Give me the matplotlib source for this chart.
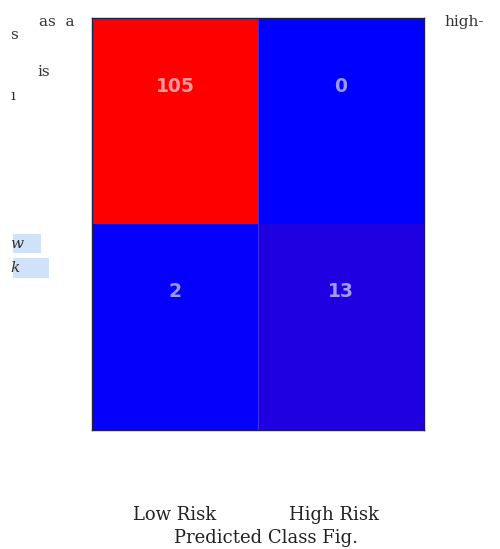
import matplotlib.pyplot as plt
import numpy as np
from matplotlib.colors import LinearSegmentedColormap
from matplotlib.patches import Rectangle
from matplotlib.transforms import offset_copy

classes = ["Low Risk", "High Risk"]
counts = [[105, 0],
          [2, 13]]
xlabel = "Predicted Class Fig."

# stray words of the surrounding page, left and right of the figure
page_words = [("as  a", 0.078, 0.960), ("s", 0.020, 0.936), ("is", 0.074, 0.868),
              ("ı", 0.020, 0.825), ("high-", 0.888, 0.960)]
marked_words = [("w", 0.020, 0.556), ("k", 0.020, 0.512)]

cm = np.array(counts)
cmap = LinearSegmentedColormap.from_list("br", ["#0000ff", "#ff0000"])

fig = plt.figure(figsize=(5, 5.49), dpi=100, facecolor="white")
ax = fig.add_axes([0.184, 0.217, 0.664, 0.750])
ax.imshow(cm, cmap=cmap, vmin=cm.min(), vmax=cm.max(), aspect="auto")
for i in range(cm.shape[0]):
    for j in range(cm.shape[1]):
        ax.text(j, i - 0.17, str(cm[i, j]), ha="center", va="center",
                color="white", alpha=0.6, fontsize=13.5, fontweight="bold",
                family="DejaVu Sans")
ax.axvline(0.5, color="#5050ff", lw=0.8, alpha=0.6)
ax.set_xticks([])
ax.set_yticks([])
for side, sp in ax.spines.items():
    sp.set_color("#202050")
    sp.set_linewidth(1.0)

serif = "DejaVu Serif"
for j, name in enumerate(classes):
    x = fig.transFigure.inverted().transform(ax.transData.transform((j, 0)))[0]
    tr = offset_copy(fig.transFigure, fig=fig, x=-7 * j, units="dots")
    fig.text(x, 0.062, name, ha="center", va="center", fontsize=13, family=serif,
             color="#222222", transform=tr)
fig.text(0.533, 0.020, xlabel, ha="center", va="center", fontsize=13, family=serif,
         color="#222222")

# light blue text highlights
for x0, y0, w, h in [(0.026, 0.540, 0.056, 0.034), (0.026, 0.494, 0.072, 0.036)]:
    fig.patches.append(Rectangle((x0, y0), w, h, transform=fig.transFigure,
                                 fc="#cfe2fa", ec="none", zorder=0))
for word, x, y in page_words:
    fig.text(x, y, word, ha="left", va="center", fontsize=11, family=serif, color="#333333")
for word, x, y in marked_words:
    fig.text(x, y, word, ha="left", va="center", fontsize=11, family=serif,
             style="italic", color="#333333")

fig.savefig("out.png", dpi=100, facecolor="white")
